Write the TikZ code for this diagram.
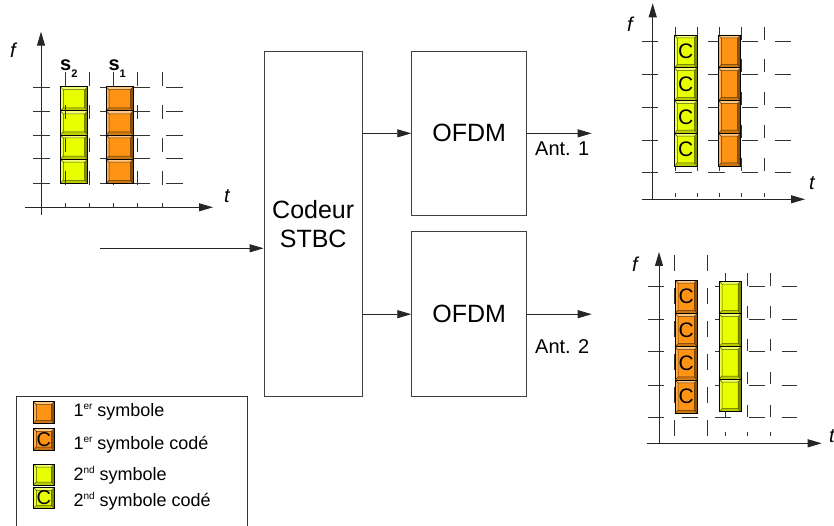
\documentclass[tikz,border=0pt]{standalone}
\usepackage{fontspec}
\setmainfont{Liberation Sans}
\usetikzlibrary{arrows.meta}
\definecolor{yel}{RGB}{232,255,0}
\definecolor{org}{RGB}{255,148,20}
\tikzset{
  blk/.style={draw=black!75, line width=0.9pt, rectangle, inner sep=0pt, align=center, font=\fontsize{25}{28.5}\selectfont},
  conn/.style={draw=black!85, line width=0.8pt, -{Triangle[length=14pt,width=8pt]}},
  axisl/.style={draw=black!85, line width=0.9pt, -{Triangle[length=14pt,width=8pt]}},
  gridl/.style={draw=black!80, line width=0.8pt},
  lbl/.style={inner sep=0pt, anchor=base west},
  axlbl/.style={inner sep=0pt, anchor=base west, font=\fontsize{20}{20}\selectfont\itshape},
  ctext/.style={inner sep=0pt, font=\fontsize{21}{21}\selectfont},
  legtext/.style={inner sep=0pt, anchor=base west, font=\fontsize{18}{18}\selectfont},
}
\newcommand{\bcell}[5]{%
  \begin{scope}[shift={(#1,#2)}]
    \fill[#5] (0,0) rectangle (#3,#4);
    \fill[#5!55!black] (#3,0) -- (#3,#4) -- ({#3-3},{#4-3}) -- ({#3-3},3) -- cycle;
    \fill[#5!80!black] (0,#4) -- (#3,#4) -- ({#3-3},{#4-3}) -- (3,{#4-3}) -- cycle;
    \fill[#5!55!white] (0,0) -- (#3,0) -- ({#3-3},3) -- (3,3) -- cycle;
    \fill[#5!75!white] (0,0) -- (0,#4) -- (3,{#4-3}) -- (3,3) -- cycle;
    \draw[#5!35!black, line width=0.5pt] (3,3) rectangle ({#3-3},{#4-3})
      (0,0) -- (3,3) (#3,0) -- ({#3-3},3) (0,#4) -- (3,{#4-3}) (#3,#4) -- ({#3-3},{#4-3});
    \draw[black, line width=0.9pt] (0,0) rectangle (#3,#4);
  \end{scope}}
\newcommand{\supx}[1]{\raisebox{7pt}{\fontsize{10}{10}\selectfont #1}}
\begin{document}
\begin{tikzpicture}[x=1pt, y=-1pt]
\useasboundingbox (0,0) rectangle (834,526);

% ---------------- Grid 1 (top left) ----------------
\foreach \y in {87.7,111,135,158.7,183.3}
  \draw[gridl, dash pattern=on 16.6pt off 16.7pt] (33,\y) -- (183,\y);
\foreach \x in {65,89,113,137,162} {
  \draw[gridl, dash pattern=on 14pt off 19pt] (\x,72) -- (\x,188);
  \draw[gridl] (\x,203) -- (\x,207.3);
}
\draw[axisl] (41,215) -- (41,31.7);
\draw[axisl] (25,207.3) -- (213,207.3);
\node[axlbl] (f1) at (10,58) {f};
\node[axlbl] (t1) at (224,203) {t};
\foreach \i in {0,...,3} {
  \pgfmathsetmacro{\yy}{86.7+\i*24.15}
  \bcell{60.3}{\yy}{27.4}{24.15}{yel}
  \bcell{106}{\yy}{27.3}{24.15}{org}
}
\draw[gridl, dash pattern=on 14pt off 19pt] (65,72) -- (65,185);
\node[lbl, font=\fontsize{20}{20}\selectfont\bfseries] (s2) at (60,70.5) {s\raisebox{-6.8pt}{\fontsize{11}{11}\selectfont 2}};
\node[lbl, font=\fontsize{20}{20}\selectfont\bfseries] (s1) at (108.3,70.5) {s\raisebox{-6.8pt}{\fontsize{11}{11}\selectfont 1}};

% ---------------- Grid 2 (top right) ----------------
\foreach \y in {41.7,74,107.3,140,172.7}
  \draw[gridl, dash pattern=on 16.6pt off 16.7pt] (641.7,\y) -- (791,\y);
\foreach \x in {675,697.3,719.3,741.7,764} {
  \draw[gridl, dash pattern=on 13pt off 19.75pt] (\x,26.7) -- (\x,173);
  \draw[gridl] (\x,193) -- (\x,197);
}
\draw[axisl] (652.7,199.3) -- (652.7,3.3);
\draw[axisl] (641.7,199.3) -- (805,199.3);
\node[axlbl] (f2) at (627,31.7) {f};
\node[axlbl] (t2) at (809,190) {t};
\foreach \i in {0,...,3} {
  \pgfmathsetmacro{\yy}{35+\i*32.75}
  \bcell{674.3}{\yy}{23}{32.75}{yel}
  \bcell{718.3}{\yy}{22.4}{32.75}{org}
  \node[ctext] (g2c\i) at (685.8,\yy+16.4) {C};
}

% ---------------- Grid 3 (bottom right) ----------------
\foreach \y in {286,319.3,351.7,385,417.7}
  \draw[gridl, dash pattern=on 16pt off 17.4pt] (648.3,\y) -- (797,\y);
\foreach \x in {674.3,707.3}
  \draw[gridl, dash pattern=on 16pt off 17pt] (\x,255) -- (\x,436);
\foreach \x in {725.7,747.7,770} {
  \draw[gridl, dash pattern=on 12.5pt off 20.4pt] (\x,273) -- (\x,418);
  \draw[gridl] (\x,432) -- (\x,436);
}
\draw[axisl] (659,443.3) -- (659,252);
\draw[axisl] (646.7,443.3) -- (821.7,443.3);
\node[axlbl] (f3) at (632,271.7) {f};
\node[axlbl] (t3) at (829,442) {t};
\foreach \i in {0,...,3} {
  \pgfmathsetmacro{\yy}{280+\i*33.33}
  \pgfmathsetmacro{\yb}{281+\i*32.68}
  \bcell{675}{\yy}{22.3}{33.33}{org}
  \bcell{719}{\yb}{22}{32.68}{yel}
  \node[ctext] (g3c\i) at (686.2,\yy+16.7) {C};
}

% ---------------- Main chain ----------------
\node[blk, minimum width=98.3pt, minimum height=345pt] (coder) at (313.2,224.2) {Codeur\\STBC};
\node[blk, minimum width=115pt, minimum height=163.3pt] (ofdm1) at (469.2,133.35) {OFDM};
\node[blk, minimum width=115pt, minimum height=165pt] (ofdm2) at (469.2,314.2) {OFDM};
\coordinate (in) at (100,248.3);
\coordinate (ant1) at (591.7,133.35);
\coordinate (ant2) at (591.7,314.2);
\draw[conn] (in) -- (in -| coder.west);
\draw[conn] (coder.east |- ofdm1.west) -- (ofdm1.west);
\draw[conn] (coder.east |- ofdm2.west) -- (ofdm2.west);
\draw[conn] (ofdm1.east) -- (ant1);
\draw[conn] (ofdm2.east) -- (ant2);
\node[lbl, font=\fontsize{20}{20}\selectfont] (a1) at (535,156) {Ant. 1};
\node[lbl, font=\fontsize{20}{20}\selectfont] (a2) at (535,353.3) {Ant. 2};

% ---------------- Legend ----------------
\draw[black!80, line width=0.9pt] (16.7,530) -- (16.7,396) -- (247.5,396) -- (247.5,530);
\bcell{33.3}{401.7}{21}{21.6}{org}
\bcell{33.3}{428.3}{21}{21.7}{org}
\node[inner sep=0pt, font=\fontsize{20}{20}\selectfont] (lc1) at (43.8,439.2) {C};
\bcell{33.3}{464}{21}{21}{yel}
\bcell{33.3}{487.3}{21}{21}{yel}
\node[inner sep=0pt, font=\fontsize{20}{20}\selectfont] (lc2) at (43.8,497.8) {C};
\node[legtext] (l1) at (73.3,416.7) {1\supx{er} symbole};
\node[legtext] (l2) at (73.3,449.3) {1\supx{er} symbole codé};
\node[legtext] (l3) at (73.3,480.7) {2\supx{nd} symbole};
\node[legtext] (l4) at (73.3,506.7) {2\supx{nd} symbole codé};
\end{tikzpicture}
\end{document}
